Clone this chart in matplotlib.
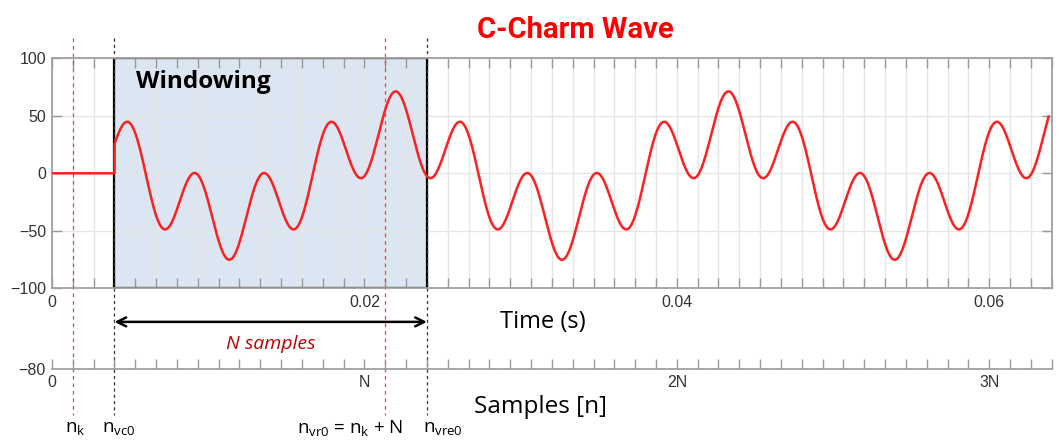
import numpy as np
import matplotlib
matplotlib.use("Agg")
import matplotlib.pyplot as plt
import matplotlib.transforms as mtransforms
from matplotlib.patches import Rectangle

plt.rcParams['font.family'] = ['Liberation Sans', 'DejaVu Sans']
plt.rcParams['mathtext.fontset'] = 'custom'
plt.rcParams['mathtext.rm'] = 'Open Sans'
plt.rcParams['mathtext.it'] = 'Open Sans:italic'

## data
N = 0.02                      # one window, seconds
tick_step = N / 15            # grid / sample spacing
x_max = 0.064
sample_labels = ['0', 'N', '2N', '3N']

# wave = offset + sum(amp * cos(2*pi*h*f0*(t - t_peak)))
f0 = 46.95                    # Hz, slow period ~0.0213 s
harmonics = [1, 5]
amps = [39.4, 33.8]
offset = -2.0
t_peak = 0.0220
t_start = 0.004               # wave switched on at n_vc0
t_end = 0.0638

n_k = N / 15
n_vc0 = t_start
n_vr0 = n_k + N
n_vre0 = n_vc0 + N
marker_times = [n_k, n_vc0, n_vr0, n_vre0]
marker_colors = ['#ff3b3b', '#333333', '#ff3b3b', '#333333']
marker_labels = [r'n$_\mathregular{k}$', r'n$_\mathregular{vc0}$',
                 r'n$_\mathregular{vr0}$ = n$_\mathregular{k}$ + N', r'n$_\mathregular{vre0}$']

t = np.linspace(0, t_end, 6000)
wave = offset + sum(a * np.cos(2 * np.pi * h * f0 * (t - t_peak)) for a, h in zip(amps, harmonics))
y = np.where(t < t_start, 0.0, wave)

W, H = 1061, 440
fig = plt.figure(figsize=(W / 100, H / 100), dpi=100)
ax = fig.add_axes([52 / W, 1 - 288.3 / H, 999.7 / W, 230 / H])

ticks = np.arange(0, 49) * tick_step
ax.set_xlim(0, x_max)
ax.set_ylim(-100, 100)
ax.set_xticks(ticks)
ax.set_xticklabels([('%g' % tv) if k % 15 == 0 else '' for k, tv in enumerate(ticks)])
ax.set_yticks([-100, -50, 0, 50, 100])
ax.tick_params(axis='both', direction='in', length=7, width=1, color='#999999',
               labelsize=11.5, labelcolor='#333333', top=True, right=True, pad=4)
ax.tick_params(axis='x', pad=5)
for s in ax.spines.values():
    s.set_color('#a0a0a0')
    s.set_linewidth(1.3)
ax.set_axisbelow(True)
ax.grid(True, color='#e6e6e6', linewidth=1)

# window box
ax.add_patch(Rectangle((n_vc0, -100), N, 200, facecolor='#dce6f2', edgecolor='none', zorder=0.3))
ax.add_patch(Rectangle((n_vc0, -100), N, 200, facecolor='none', edgecolor='black', linewidth=1.6, zorder=2))
ax.text(n_vc0 + 0.0014, 79, 'Windowing', fontfamily='Open Sans', fontweight='bold', fontsize=17.5,
        va='center', ha='left', zorder=4)

ax.plot(t, y, color='#ff1f1f', linewidth=1.8, zorder=3)

# marker lines running past the axes
trans = mtransforms.blended_transform_factory(ax.transData, ax.transAxes)
for mt, mc in zip(marker_times, marker_colors):
    ax.plot([mt, mt], [1.09, -0.55], transform=trans, clip_on=False, color=mc,
            linestyle=(0, (3, 3)) if mc != '#333333' else (0, (2.5, 2.5)), linewidth=0.9, zorder=2.5)

# N samples arrow
ax.annotate('', xy=(n_vc0, -0.146), xytext=(n_vre0, -0.146), xycoords=trans, textcoords=trans,
            arrowprops=dict(arrowstyle='<->', color='black', lw=1.8, mutation_scale=16, shrinkA=0, shrinkB=0))
ax.text((n_vc0 + n_vre0) / 2, -0.24, 'N samples', transform=trans, ha='center', va='center',
        fontfamily='Open Sans', fontstyle='italic', fontsize=14, color='#c00000')

fig.text(543 / W, 1 - 322 / H, 'Time (s)', ha='center', va='center', fontfamily='Open Sans', fontsize=17)
fig.text(541 / W, 1 - 407 / H, 'Samples [n]', ha='center', va='center', fontfamily='Open Sans', fontsize=17.5)

# samples axis
ax2 = fig.add_axes([52 / W, 1 - 369 / H, 999.7 / W, 0.0001])
ax2.set_xlim(0, x_max)
ax2.set_ylim(-80, 0)
ax2.set_xticks(ticks)
ax2.set_xticklabels([sample_labels[k // 15] if k % 15 == 0 else '' for k in range(len(ticks))])
ax2.set_yticks([-80])
ax2.tick_params(axis='x', direction='in', length=7, width=1, color='#999999',
                labelsize=11.5, labelcolor='#333333', pad=4)
ax2.tick_params(axis='y', length=0, labelsize=11.5, labelcolor='#333333', pad=5)
for name in ['top', 'left', 'right']:
    ax2.spines[name].set_visible(False)
ax2.spines['bottom'].set_color('#a0a0a0')
ax2.spines['bottom'].set_linewidth(1.3)
ax2.patch.set_visible(False)

# marker names
label_centers = [75, 119, 350, 443]
for lx, lab in zip(label_centers, marker_labels):
    fig.text(lx / W, 1 - 428 / H, lab, ha='center', va='center', fontfamily='Open Sans', fontsize=13.5)

fig.text(575 / W, 1 - 30 / H, 'C-Charm Wave', ha='center', va='center', color='#ff0000',
         fontfamily='Roboto', fontweight='bold', fontsize=21)

fig.savefig('out.png', dpi=100)
